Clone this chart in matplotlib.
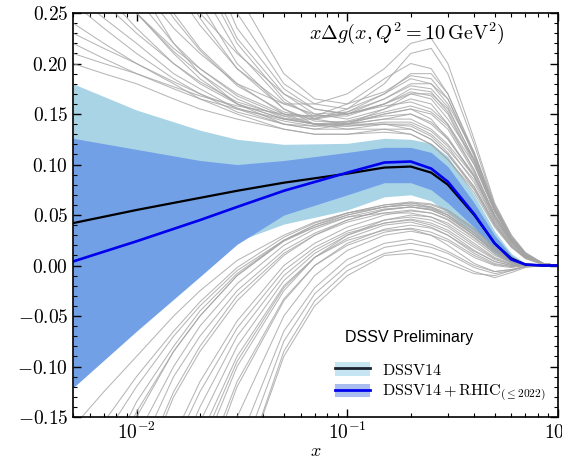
import matplotlib
matplotlib.use("Agg")
import matplotlib.pyplot as plt
from matplotlib.patches import Patch
from matplotlib.lines import Line2D
from matplotlib.ticker import FuncFormatter, MultipleLocator

plt.rcParams['mathtext.fontset'] = 'cm'
plt.rcParams['font.family'] = 'serif'
plt.rcParams['font.serif'] = ['cmr10']
plt.rcParams['axes.formatter.use_mathtext'] = True

# x nodes of the gray replicas
xr = [0.005, 0.007, 0.01, 0.015, 0.02, 0.03, 0.05, 0.07, 0.1, 0.15, 0.2, 0.25, 0.3, 0.4, 0.5, 0.6, 0.7, 0.85, 1.0]

# upper replicas
up1 = [0.40, 0.34, 0.28, 0.22, 0.19, 0.16, 0.14, 0.135, 0.135, 0.14, 0.14, 0.13, 0.115, 0.085, 0.045, 0.022, 0.009, 0.002, 0.0]
up2 = [0.60, 0.50, 0.40, 0.31, 0.26, 0.20, 0.155, 0.14, 0.14, 0.15, 0.155, 0.145, 0.125, 0.09, 0.05, 0.025, 0.01, 0.002, 0.0]
up3 = [0.30, 0.27, 0.235, 0.20, 0.18, 0.16, 0.145, 0.14, 0.14, 0.145, 0.145, 0.135, 0.12, 0.088, 0.048, 0.024, 0.01, 0.002, 0.0]
up4 = [0.24, 0.22, 0.20, 0.18, 0.165, 0.15, 0.135, 0.13, 0.13, 0.135, 0.135, 0.125, 0.11, 0.078, 0.042, 0.02, 0.008, 0.001, 0.0]
up5 = [0.80, 0.65, 0.50, 0.37, 0.30, 0.225, 0.17, 0.15, 0.145, 0.155, 0.165, 0.16, 0.14, 0.10, 0.055, 0.027, 0.011, 0.002, 0.0]
up6 = [0.20, 0.19, 0.18, 0.165, 0.155, 0.145, 0.135, 0.13, 0.13, 0.132, 0.13, 0.12, 0.105, 0.075, 0.04, 0.019, 0.007, 0.001, 0.0]
up7 = [0.50, 0.43, 0.36, 0.29, 0.25, 0.21, 0.17, 0.155, 0.15, 0.16, 0.17, 0.165, 0.145, 0.105, 0.058, 0.028, 0.012, 0.002, 0.0]
up8 = [1.0, 0.80, 0.60, 0.43, 0.34, 0.25, 0.18, 0.16, 0.155, 0.17, 0.185, 0.18, 0.16, 0.112, 0.06, 0.03, 0.013, 0.002, 0.0]
up9 = [0.35, 0.30, 0.25, 0.21, 0.185, 0.16, 0.145, 0.145, 0.155, 0.18, 0.21, 0.215, 0.19, 0.12, 0.06, 0.028, 0.011, 0.002, 0.0]
up10 = [0.27, 0.245, 0.22, 0.19, 0.175, 0.155, 0.14, 0.135, 0.14, 0.155, 0.17, 0.17, 0.155, 0.105, 0.055, 0.026, 0.01, 0.002, 0.0]
up11 = [0.45, 0.38, 0.31, 0.25, 0.215, 0.18, 0.15, 0.14, 0.135, 0.135, 0.13, 0.12, 0.105, 0.072, 0.038, 0.018, 0.007, 0.001, 0.0]
up12 = [0.22, 0.205, 0.19, 0.175, 0.165, 0.155, 0.145, 0.14, 0.14, 0.14, 0.135, 0.125, 0.11, 0.076, 0.04, 0.019, 0.008, 0.001, 0.0]
up13 = [0.70, 0.58, 0.46, 0.35, 0.29, 0.22, 0.165, 0.145, 0.14, 0.145, 0.15, 0.14, 0.125, 0.088, 0.047, 0.023, 0.009, 0.002, 0.0]
up14 = [0.32, 0.285, 0.25, 0.215, 0.195, 0.17, 0.15, 0.145, 0.15, 0.165, 0.18, 0.18, 0.165, 0.11, 0.057, 0.027, 0.011, 0.002, 0.0]
up15 = [0.38, 0.33, 0.28, 0.235, 0.21, 0.18, 0.16, 0.16, 0.17, 0.195, 0.22, 0.225, 0.20, 0.125, 0.062, 0.03, 0.012, 0.002, 0.0]
up16 = [0.26, 0.235, 0.21, 0.185, 0.17, 0.152, 0.14, 0.138, 0.142, 0.15, 0.155, 0.15, 0.135, 0.092, 0.05, 0.024, 0.01, 0.002, 0.0]
up17 = [0.55, 0.46, 0.37, 0.29, 0.245, 0.195, 0.155, 0.143, 0.142, 0.148, 0.15, 0.142, 0.127, 0.088, 0.047, 0.023, 0.009, 0.002, 0.0]
up18 = [0.21, 0.20, 0.19, 0.177, 0.168, 0.158, 0.15, 0.148, 0.15, 0.158, 0.162, 0.155, 0.14, 0.095, 0.05, 0.024, 0.01, 0.002, 0.0]
up19 = [0.90, 0.72, 0.55, 0.40, 0.32, 0.235, 0.175, 0.155, 0.15, 0.16, 0.175, 0.172, 0.152, 0.102, 0.054, 0.026, 0.011, 0.002, 0.0]
up20 = [0.29, 0.26, 0.23, 0.20, 0.182, 0.162, 0.148, 0.148, 0.16, 0.185, 0.20, 0.195, 0.17, 0.11, 0.056, 0.027, 0.011, 0.002, 0.0]
up21 = [0.36, 0.31, 0.265, 0.22, 0.195, 0.168, 0.148, 0.14, 0.138, 0.14, 0.138, 0.128, 0.112, 0.078, 0.042, 0.02, 0.008, 0.001, 0.0]
up22 = [0.65, 0.54, 0.43, 0.33, 0.275, 0.212, 0.162, 0.148, 0.148, 0.16, 0.172, 0.168, 0.15, 0.10, 0.053, 0.026, 0.01, 0.002, 0.0]
up23 = [0.23, 0.215, 0.20, 0.182, 0.17, 0.156, 0.143, 0.138, 0.138, 0.142, 0.142, 0.133, 0.118, 0.082, 0.044, 0.021, 0.008, 0.001, 0.0]
up24 = [0.42, 0.36, 0.30, 0.245, 0.213, 0.178, 0.152, 0.146, 0.152, 0.17, 0.19, 0.19, 0.17, 0.112, 0.057, 0.027, 0.011, 0.002, 0.0]
up25 = [1.2, 0.95, 0.70, 0.49, 0.38, 0.27, 0.19, 0.165, 0.16, 0.172, 0.188, 0.185, 0.165, 0.108, 0.056, 0.027, 0.011, 0.002, 0.0]
up26 = [0.33, 0.29, 0.25, 0.212, 0.19, 0.165, 0.146, 0.14, 0.143, 0.152, 0.158, 0.152, 0.138, 0.094, 0.05, 0.024, 0.01, 0.002, 0.0]
up27 = [0.48, 0.41, 0.34, 0.275, 0.238, 0.195, 0.16, 0.15, 0.152, 0.165, 0.178, 0.175, 0.157, 0.104, 0.054, 0.026, 0.01, 0.002, 0.0]

# lower replicas
lo1 = [-0.45, -0.33, -0.22, -0.13, -0.085, -0.035, 0.01, 0.03, 0.045, 0.055, 0.058, 0.055, 0.048, 0.03, 0.014, 0.004, 0.001, 0.0, 0.0]
lo2 = [-0.8, -0.6, -0.42, -0.27, -0.19, -0.10, -0.025, 0.008, 0.03, 0.045, 0.05, 0.048, 0.042, 0.025, 0.01, 0.003, 0.0, 0.0, 0.0]
lo3 = [-0.3, -0.22, -0.15, -0.085, -0.05, -0.01, 0.025, 0.04, 0.052, 0.06, 0.062, 0.058, 0.05, 0.03, 0.014, 0.004, 0.001, 0.0, 0.0]
lo4 = [-1.2, -0.95, -0.7, -0.48, -0.36, -0.22, -0.09, -0.04, -0.01, 0.01, 0.012, 0.008, 0.002, -0.008, -0.01, -0.005, -0.001, 0.0, 0.0]
lo5 = [-0.6, -0.45, -0.32, -0.2, -0.14, -0.07, -0.01, 0.015, 0.032, 0.042, 0.045, 0.04, 0.033, 0.015, 0.004, 0.0, 0.0, 0.0, 0.0]
lo6 = [-0.22, -0.17, -0.12, -0.07, -0.04, -0.005, 0.025, 0.04, 0.05, 0.058, 0.06, 0.058, 0.052, 0.035, 0.017, 0.006, 0.001, 0.0, 0.0]
lo7 = [-1.0, -0.78, -0.56, -0.37, -0.27, -0.15, -0.05, -0.01, 0.015, 0.03, 0.034, 0.03, 0.024, 0.008, 0.0, -0.002, 0.0, 0.0, 0.0]
lo8 = [-0.5, -0.38, -0.27, -0.17, -0.115, -0.055, 0.0, 0.022, 0.038, 0.05, 0.054, 0.052, 0.046, 0.028, 0.012, 0.003, 0.0, 0.0, 0.0]
lo9 = [-0.38, -0.28, -0.19, -0.11, -0.07, -0.025, 0.015, 0.032, 0.045, 0.055, 0.058, 0.056, 0.05, 0.032, 0.015, 0.005, 0.001, 0.0, 0.0]
lo10 = [-0.7, -0.53, -0.38, -0.24, -0.17, -0.09, -0.02, 0.008, 0.025, 0.035, 0.036, 0.03, 0.02, 0.002, -0.006, -0.004, -0.001, 0.0, 0.0]
lo11 = [-1.5, -1.1, -0.8, -0.52, -0.38, -0.22, -0.085, -0.035, -0.005, 0.012, 0.016, 0.012, 0.006, -0.006, -0.012, -0.007, -0.002, 0.0, 0.0]
lo12 = [-0.26, -0.2, -0.135, -0.08, -0.045, -0.008, 0.025, 0.038, 0.048, 0.052, 0.052, 0.048, 0.04, 0.022, 0.008, 0.002, 0.0, 0.0, 0.0]
lo13 = [-0.9, -0.68, -0.48, -0.31, -0.22, -0.12, -0.035, 0.0, 0.022, 0.036, 0.04, 0.037, 0.03, 0.014, 0.004, 0.0, 0.0, 0.0, 0.0]
lo14 = [-0.16, -0.125, -0.09, -0.05, -0.025, 0.005, 0.03, 0.043, 0.052, 0.058, 0.06, 0.057, 0.05, 0.033, 0.016, 0.005, 0.001, 0.0, 0.0]
lo15 = [-0.34, -0.25, -0.17, -0.1, -0.06, -0.018, 0.02, 0.036, 0.048, 0.056, 0.058, 0.055, 0.048, 0.03, 0.014, 0.004, 0.001, 0.0, 0.0]
lo16 = [-0.55, -0.41, -0.29, -0.18, -0.125, -0.062, -0.005, 0.018, 0.034, 0.045, 0.048, 0.045, 0.038, 0.02, 0.007, 0.001, 0.0, 0.0, 0.0]
lo17 = [-0.42, -0.31, -0.21, -0.125, -0.08, -0.03, 0.012, 0.03, 0.043, 0.052, 0.055, 0.052, 0.045, 0.027, 0.012, 0.003, 0.0, 0.0, 0.0]
lo18 = [-0.75, -0.57, -0.4, -0.255, -0.18, -0.095, -0.022, 0.008, 0.027, 0.04, 0.043, 0.038, 0.03, 0.012, 0.002, -0.001, 0.0, 0.0, 0.0]
lo19 = [-1.3, -1.0, -0.72, -0.48, -0.35, -0.2, -0.075, -0.028, 0.0, 0.018, 0.022, 0.018, 0.012, -0.002, -0.008, -0.005, -0.001, 0.0, 0.0]
lo20 = [-0.28, -0.21, -0.145, -0.085, -0.05, -0.01, 0.024, 0.038, 0.05, 0.058, 0.062, 0.06, 0.054, 0.036, 0.018, 0.006, 0.001, 0.0, 0.0]
lo21 = [-0.65, -0.49, -0.35, -0.22, -0.155, -0.08, -0.015, 0.012, 0.03, 0.042, 0.046, 0.042, 0.035, 0.018, 0.006, 0.001, 0.0, 0.0, 0.0]
lo22 = [-0.2, -0.155, -0.11, -0.065, -0.036, -0.002, 0.028, 0.042, 0.052, 0.06, 0.063, 0.061, 0.055, 0.037, 0.018, 0.006, 0.001, 0.0, 0.0]
lo23 = [-0.85, -0.65, -0.46, -0.3, -0.21, -0.115, -0.033, 0.0, 0.02, 0.033, 0.037, 0.033, 0.026, 0.01, 0.001, -0.001, 0.0, 0.0, 0.0]
lo24 = [-1.1, -0.85, -0.62, -0.42, -0.31, -0.18, -0.065, -0.022, 0.006, 0.022, 0.026, 0.021, 0.014, 0.0, -0.006, -0.004, -0.001, 0.0, 0.0]

replicas = [up1, up2, up3, up4, up5, up6, up7, up8, up9, up10, up11, up12, up13, up14,
            up15, up16, up17, up18, up19, up20, up21, up22, up23, up24, up25, up26, up27,
            lo1, lo2, lo3, lo4, lo5, lo6, lo7, lo8, lo9, lo10, lo11, lo12, lo13, lo14,
            lo15, lo16, lo17, lo18, lo19, lo20, lo21, lo22, lo23, lo24]

# bands and central curves
xb = [0.005, 0.01, 0.02, 0.03, 0.05, 0.1, 0.15, 0.2, 0.25, 0.3, 0.4, 0.5, 0.6, 0.7, 0.85, 1.0]
dssv14_hi = [0.180, 0.154, 0.134, 0.125, 0.120, 0.121, 0.126, 0.125, 0.121, 0.108, 0.070, 0.034, 0.012, 0.002, 0.0, 0.0]
dssv14_lo = [-0.08, -0.045, 0.0, 0.024, 0.041, 0.055, 0.068, 0.070, 0.064, 0.052, 0.031, 0.011, 0.002, 0.0, 0.0, 0.0]
dssv14 = [0.042, 0.055, 0.067, 0.074, 0.082, 0.091, 0.097, 0.098, 0.092, 0.080, 0.050, 0.022, 0.007, 0.001, 0.0, 0.0]
rhic_hi = [0.126, 0.115, 0.104, 0.100, 0.104, 0.112, 0.117, 0.117, 0.112, 0.098, 0.062, 0.030, 0.010, 0.001, 0.0, 0.0]
rhic_lo = [-0.121, -0.065, -0.011, 0.021, 0.050, 0.070, 0.082, 0.082, 0.075, 0.062, 0.038, 0.015, 0.003, 0.0, 0.0, 0.0]
rhic = [0.004, 0.024, 0.045, 0.058, 0.074, 0.092, 0.102, 0.103, 0.096, 0.083, 0.051, 0.022, 0.006, 0.001, 0.0, 0.0]

fig = plt.figure(figsize=(5.62, 4.58), dpi=100)
ax = fig.add_axes([0.130, 0.0895, 0.863, 0.882])

for r in replicas:
    ax.plot(xr, r, color='#a4a4a4', lw=0.75, alpha=0.8)

ax.fill_between(xb, dssv14_lo, dssv14_hi, color='#a3d1e5', alpha=0.93, lw=0)
ax.fill_between(xb, rhic_lo, rhic_hi, color='#72a0e6', lw=0)
ax.plot(xb, dssv14, color='black', lw=1.6)
ax.plot(xb, rhic, color='#0000ee', lw=1.9)

ax.set_xscale('log')
ax.set_xlim(0.005, 1.0)
ax.set_ylim(-0.15, 0.25)
ax.yaxis.set_major_locator(MultipleLocator(0.05))
ax.yaxis.set_minor_locator(MultipleLocator(0.01))
ax.yaxis.set_major_formatter(FuncFormatter(lambda v, p: r'$%.2f$' % v))
ax.tick_params(which='both', direction='in', top=True, right=True, labelsize=14)
ax.tick_params(which='major', length=6, width=1)
ax.tick_params(which='minor', length=3, width=0.8)
for s in ax.spines.values():
    s.set_linewidth(1.2)

ax.set_xlabel(r'$x$', fontsize=13, labelpad=0)
ax.text(0.89, 0.95, r'$x\Delta g(x,Q^2=10\,\mathrm{GeV}^2)$', transform=ax.transAxes,
        ha='right', va='center', fontsize=14.5)

handles = [(Patch(fc='#c6e5f3', ec='none'), Line2D([], [], color='#1a2530', lw=2)),
           (Patch(fc='#a9bdf0', ec='none'), Line2D([], [], color='#0000ee', lw=2))]
labels = [r'$\mathrm{DSSV14}$', r'$\mathrm{DSSV14+RHIC}_{(\leq 2022)}$']
ax.legend(handles, labels, loc='lower right', bbox_to_anchor=(1.005, -0.004),
          frameon=False, fontsize=11.6, handlelength=2.2, handleheight=0.9,
          handletextpad=0.75, labelspacing=0.33)
ax.text(0.561, 0.198, 'DSSV Preliminary', transform=ax.transAxes, ha='left', va='center',
        family='Liberation Sans', fontsize=11.5)

fig.savefig('out.png', dpi=100)
